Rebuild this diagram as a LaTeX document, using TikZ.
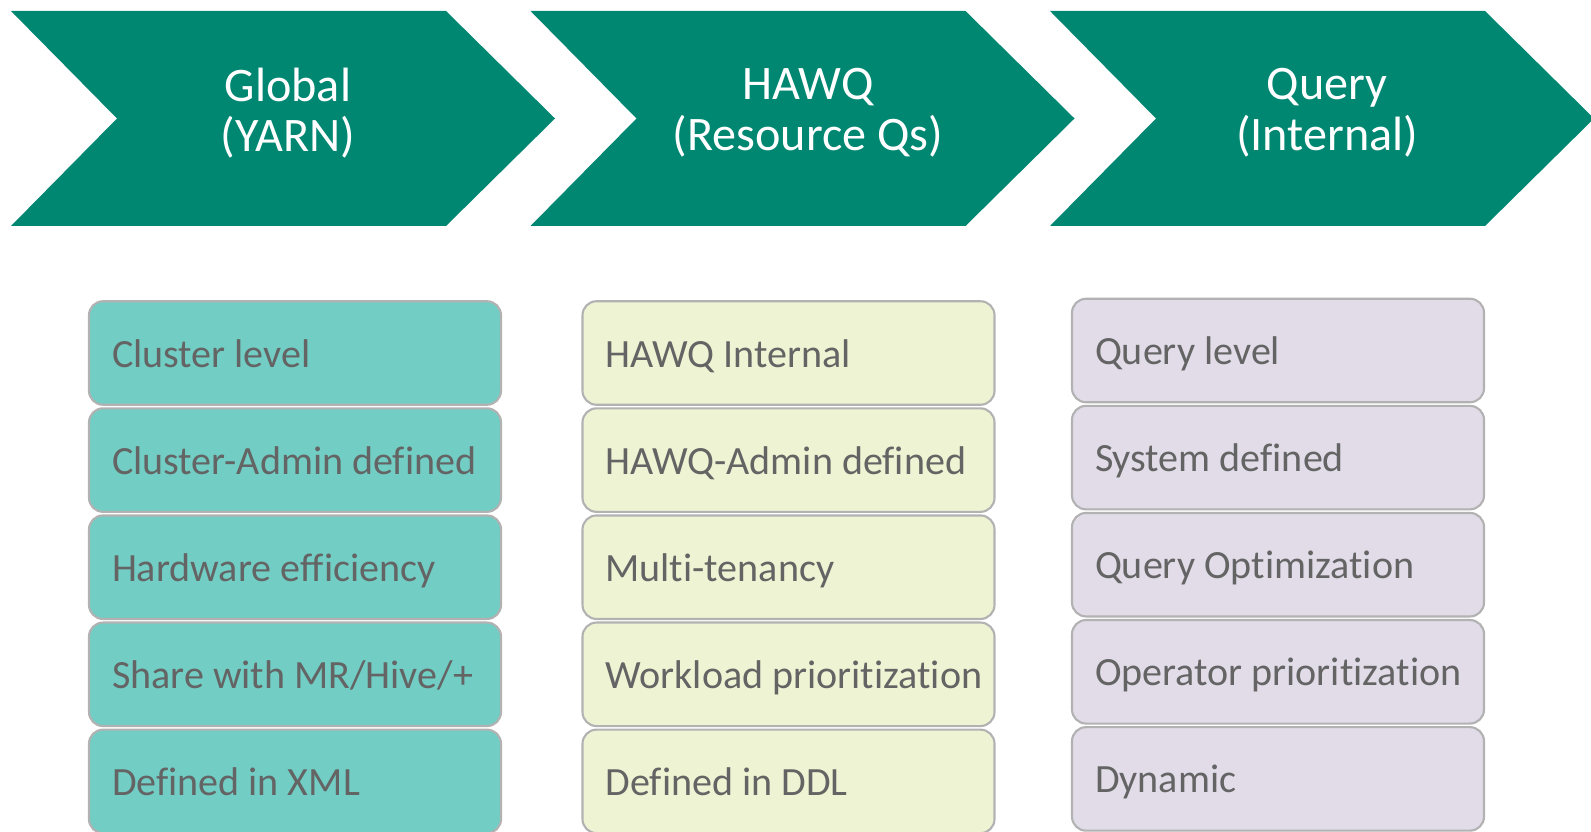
\documentclass[tikz,border=0pt]{standalone}
\usepackage{fontspec}
\setmainfont{Carlito}[Ligatures=NoCommon]
\usepackage{xcolor}
\definecolor{hawq-teal}{HTML}{008772}
\definecolor{hawq-aqua}{HTML}{72CDC4}
\definecolor{hawq-lime}{HTML}{EEF4D3}
\definecolor{hawq-lilac}{HTML}{E1DCE8}
\definecolor{hawq-edge}{HTML}{B2B2B2}
\definecolor{hawq-text}{HTML}{646464}
\usepackage{tikz}

\newcommand{\boxline}[1]{\hbox to 3.66cm{#1\hss}}

\begin{document}
\begin{tikzpicture}[
    stagetext/.style={text=white, align=center, font=\fontsize{13.7}{14.4}\selectfont},
    levelbox/.style={draw=hawq-edge, line width=0.6pt, rounded corners=0.14cm,
        minimum width=4.12cm, minimum height=1.035cm, inner xsep=0.23cm, inner ysep=0pt,
        text=hawq-text, text height=0.95em, text depth=0.15em, font=\fontsize{11.4}{13.6}\selectfont},
    yarnbox/.style={levelbox, fill=hawq-aqua},
    hawqbox/.style={levelbox, fill=hawq-lime},
    querybox/.style={levelbox, fill=hawq-lilac}
]

    \useasboundingbox (0, 0) rectangle (15.91, 8.31);

    % Chevrons
    \foreach \i in {0, 1, 2} {
        \pgfmathsetmacro{\x}{0.11 + 5.195*\i}
        \fill[hawq-teal] (\x, 8.20) -- ({\x + 4.35}, 8.20) -- ({\x + 5.44}, 7.125) -- ({\x + 4.35}, 6.05) -- (\x, 6.05) -- ({\x + 1.06}, 7.125) -- cycle;
    }

    % Stage titles
    \node[stagetext] (global) at (2.88, 7.18) {Global\\(YARN)};
    \node[stagetext] (hawq) at (8.08, 7.18) {HAWQ\\(Resource Qs)};
    \node[stagetext] (query) at (13.27, 7.18) {Query\\(Internal)};

    % Global column
    \foreach \txt [count=\r] in {Cluster level, Cluster-Admin defined, Hardware efficiency, Share with MR/Hive/+, Defined in XML}
        \node[yarnbox] (yarn\r) at (2.95, {4.78 - (\r - 1)*1.071}) {\boxline{\txt}};

    % HAWQ column
    \foreach \txt [count=\r] in {HAWQ Internal, HAWQ-Admin defined, Multi-tenancy, Workload prioritization, Defined in DDL}
        \node[hawqbox] (resq\r) at (7.885, {4.78 - (\r - 1)*1.071}) {\boxline{\txt}};

    % Query column
    \foreach \txt [count=\r] in {Query level, System defined, Query Optimization, Operator prioritization, Dynamic}
        \node[querybox] (qry\r) at (12.78, {4.805 - (\r - 1)*1.071}) {\boxline{\txt}};

\end{tikzpicture}
\end{document}
